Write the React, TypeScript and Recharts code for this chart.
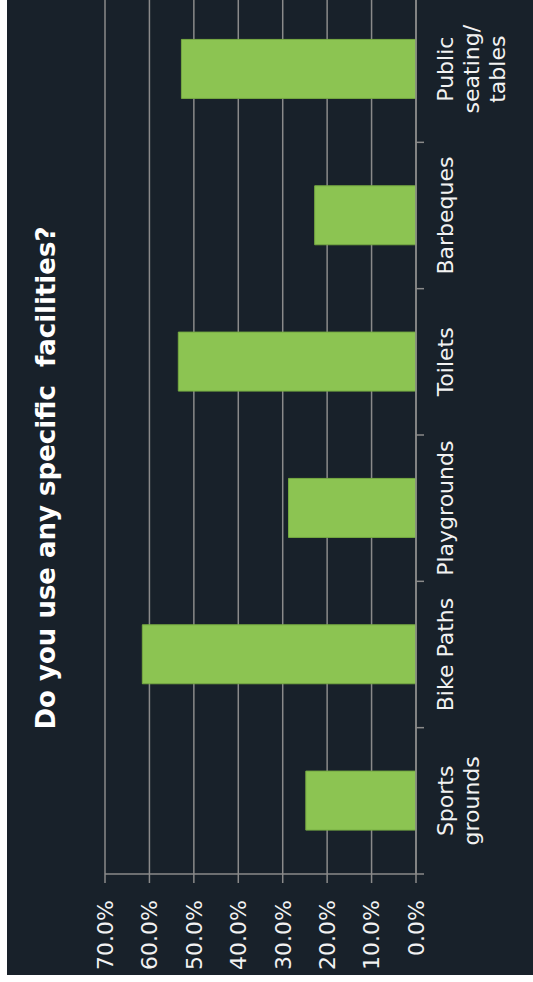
import React from 'react';
import { BarChart, Bar, XAxis, YAxis, CartesianGrid } from 'recharts';

const categories: string[] = [
  'Sports grounds',
  'Bike Paths',
  'Playgrounds',
  'Toilets',
  'Barbeques',
  'Public seating/tables',
];

// how each category label wraps
const labelLines: string[][] = [
  ['Sports', 'grounds'],
  ['Bike Paths'],
  ['Playgrounds'],
  ['Toilets'],
  ['Barbeques'],
  ['Public', 'seating/', 'tables'],
];

const usage: number[] = [24.8, 61.6, 28.7, 53.5, 22.8, 52.8];

const valueTicks: number[] = [0, 10, 20, 30, 40, 50, 60, 70];

const TITLE = 'Do you use any specific  facilities?';

const BG = '#18212a';
const GRID = '#8a8a8a';
const BAR = '#8cc452';
const TEXT = '#f2f2f2';
const FONT = '"DejaVu Sans", Verdana, sans-serif';

// the chart is laid out normally, then turned a quarter turn anticlockwise
const CHART_W = 990;
const CHART_H = 526;
const Y_AXIS_W = 101;
const RIGHT = 11;
const BAND = (CHART_W - Y_AXIS_W - RIGHT) / categories.length;

const data = categories.map((name, i) => ({ name, value: usage[i] }));

const CategoryTick = (props: any) => {
  const { x, y, payload } = props;
  const i = categories.indexOf(payload.value);
  const lines = labelLines[i] || [payload.value];
  const left = x - BAND / 2;
  const right = x + BAND / 2;
  return (
    <g>
      <line x1={left} y1={y} x2={left} y2={y + 8} stroke={GRID} strokeWidth={1.5} />
      {i === categories.length - 1 && (
        <line x1={right} y1={y} x2={right} y2={y + 8} stroke={GRID} strokeWidth={1.5} />
      )}
      <text x={x} y={y + 37} textAnchor="middle" fill={TEXT} fontSize={22} fontFamily={FONT}>
        {lines.map((l, k) => (
          <tspan key={k} x={x} dy={k === 0 ? 0 : 26}>
            {l}
          </tspan>
        ))}
      </text>
    </g>
  );
};

const App: React.FC = () => {
  return (
    <div
      style={{
        position: 'absolute',
        left: 7,
        top: 0,
        width: 526,
        height: 975,
        overflow: 'hidden',
        background: BG,
      }}
    >
      <div
        style={{
          position: 'absolute',
          left: 0,
          top: 975,
          width: CHART_W,
          height: CHART_H,
          transform: 'rotate(-90deg)',
          transformOrigin: '0 0',
        }}
      >
        <div
          style={{
            position: 'absolute',
            left: 497 - 300,
            top: 26,
            width: 600,
            textAlign: 'center',
            whiteSpace: 'pre',
            fontFamily: FONT,
            fontWeight: 'bold',
            fontSize: 26,
            lineHeight: '26px',
            color: '#ffffff',
          }}
        >
          {TITLE}
        </div>
        <BarChart
          width={CHART_W}
          height={CHART_H}
          data={data}
          margin={{ top: 98, right: RIGHT, bottom: 0, left: 0 }}
          barCategoryGap="30%"
        >
          <CartesianGrid vertical={false} stroke={GRID} strokeWidth={1.5} />
          <XAxis
            dataKey="name"
            height={117}
            interval={0}
            tickSize={0}
            tickMargin={0}
            tickLine={false}
            axisLine={{ stroke: GRID, strokeWidth: 1.5 }}
            tick={<CategoryTick />}
          />
          <YAxis
            type="number"
            domain={[0, 70]}
            ticks={valueTicks}
            interval={0}
            width={Y_AXIS_W}
            tickSize={9}
            tickMargin={17}
            axisLine={{ stroke: GRID, strokeWidth: 1.5 }}
            tickLine={{ stroke: GRID, strokeWidth: 1.5 }}
            tick={{ fill: TEXT, fontSize: 22, fontFamily: FONT }}
            tickFormatter={(v: number) => `${v.toFixed(1)}%`}
          />
          <Bar dataKey="value" fill={BAR} stroke="#76aa42" strokeWidth={1} isAnimationActive={false} />
        </BarChart>
      </div>
    </div>
  );
};

export default App;
